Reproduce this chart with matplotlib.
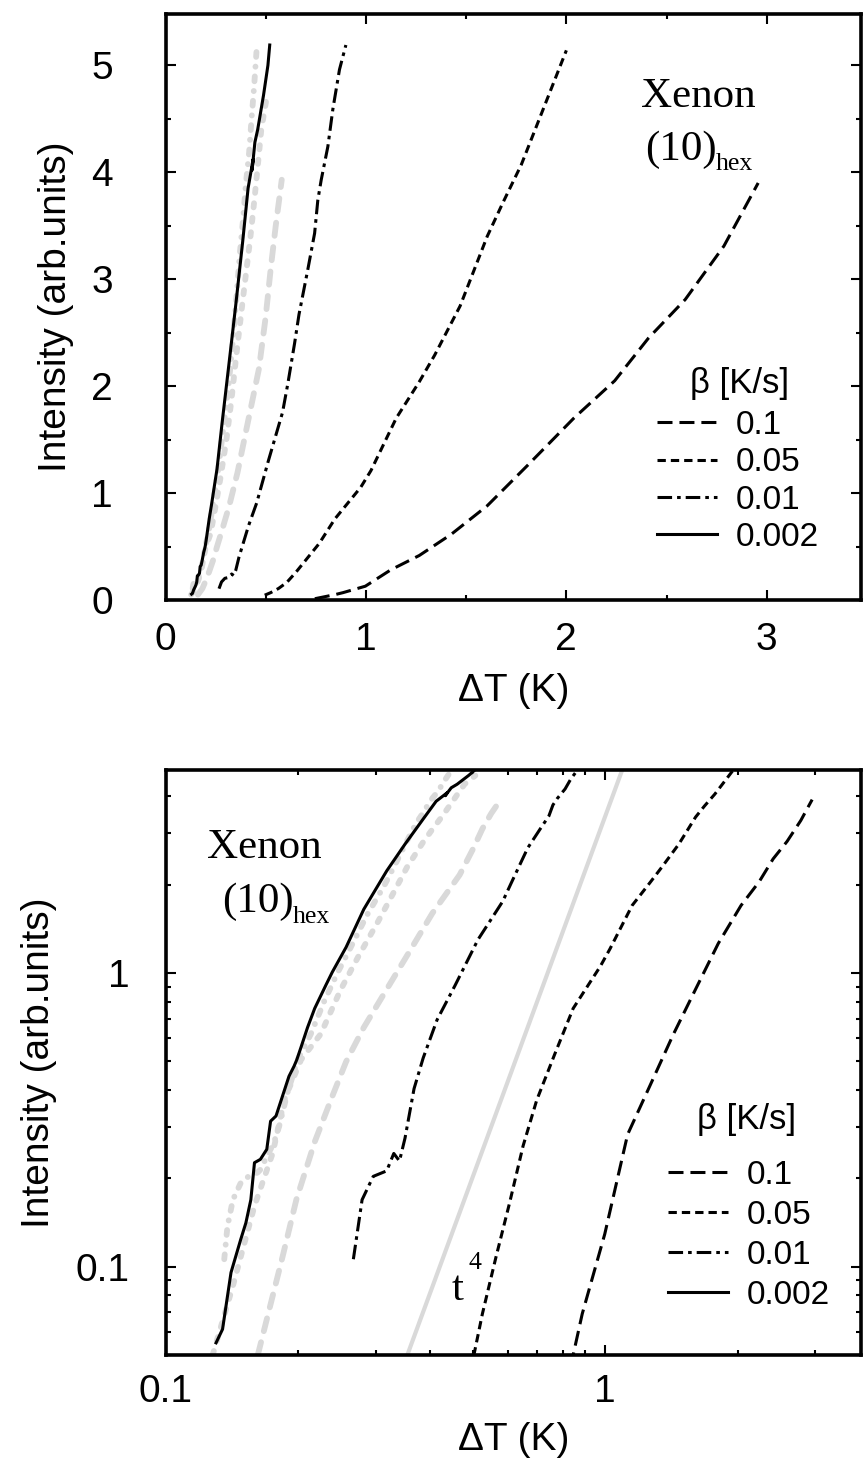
import matplotlib
matplotlib.use("Agg")
import matplotlib.pyplot as plt
from matplotlib.ticker import FixedLocator, NullFormatter, LogLocator, MultipleLocator, FixedFormatter

plt.rcParams['font.family'] = ['Liberation Sans', 'DejaVu Sans']
plt.rcParams['lines.scale_dashes'] = False

# ---- data (ΔT in K, intensity in arb. units) ----
dT_b0p1 = [0.745, 0.845, 0.886, 0.997, 1.124, 1.266, 1.426, 1.605, 1.808, 2.037, 2.241, 2.41, 2.593, 2.786, 2.957]
I_b0p1 = [0.012, 0.050, 0.069, 0.129, 0.282, 0.416, 0.615, 0.881, 1.262, 1.70, 2.05, 2.45, 2.81, 3.31, 3.90]

dT_b0p05 = [0.495, 0.525, 0.564, 0.605, 0.650, 0.698, 0.767, 0.845, 0.974, 1.025, 1.151, 1.266, 1.343, 1.47, 1.605, 1.682, 1.775, 2.0]
I_b0p05 = [0.045, 0.069, 0.108, 0.164, 0.258, 0.369, 0.529, 0.758, 1.054, 1.21, 1.70, 2.04, 2.29, 2.75, 3.40, 3.71, 4.07, 5.14]

dT_b0p01 = [0.267, 0.2795, 0.2963, 0.318, 0.330, 0.340, 0.350, 0.367, 0.385, 0.414, 0.455, 0.513, 0.584, 0.611, 0.644, 0.666, 0.71, 0.744, 0.76, 0.777, 0.81, 0.835, 0.868, 0.90]
I_b0p01 = [0.106, 0.169, 0.203, 0.212, 0.243, 0.229, 0.274, 0.404, 0.514, 0.693, 0.908, 1.30, 1.755, 2.03, 2.40, 2.67, 3.09, 3.43, 3.74, 3.93, 4.24, 4.59, 4.96, 5.19]

dT_b0p002 = [0.130, 0.1345, 0.1406, 0.148, 0.152, 0.156, 0.159, 0.164, 0.1696, 0.173, 0.178, 0.182, 0.1905, 0.1957, 0.1985, 0.203, 0.210, 0.218, 0.231, 0.239, 0.257, 0.282, 0.318, 0.350, 0.385, 0.412, 0.437, 0.432, 0.446, 0.46, 0.489, 0.511, 0.52]
I_b0p002 = [0.055, 0.0612, 0.0955, 0.124, 0.141, 0.169, 0.226, 0.232, 0.251, 0.313, 0.326, 0.361, 0.445, 0.482, 0.507, 0.56, 0.653, 0.758, 0.908, 1.007, 1.225, 1.65, 2.23, 2.75, 3.35, 3.85, 4.12, 4.02, 4.28, 4.40, 4.72, 5.0, 5.19]

# grey curves
dT_grey_dd = [0.1357, 0.138, 0.142, 0.148, 0.156, 0.1615, 0.164, 0.1698, 0.176, 0.181, 0.189, 0.1995, 0.2136, 0.229, 0.2455, 0.263, 0.287, 0.3135, 0.335, 0.357, 0.371, 0.387, 0.40, 0.417, 0.429, 0.442, 0.454]
I_grey_dd = [0.106, 0.137, 0.169, 0.193, 0.206, 0.209, 0.214, 0.238, 0.264, 0.301, 0.391, 0.507, 0.62, 0.80, 1.0, 1.22, 1.58, 1.98, 2.40, 2.90, 3.24, 3.56, 3.87, 4.18, 4.49, 4.80, 5.13]

dT_grey_sd = [0.1277, 0.142, 0.159, 0.175, 0.186, 0.203, 0.225, 0.25, 0.275, 0.304, 0.329, 0.354, 0.384, 0.404, 0.424, 0.445, 0.462, 0.478, 0.506]
I_grey_sd = [0.05, 0.086, 0.161, 0.244, 0.371, 0.507, 0.62, 0.88, 1.15, 1.50, 1.87, 2.30, 2.78, 3.09, 3.40, 3.77, 4.09, 4.40, 4.71]

dT_grey_ld = [0.1618, 0.1842, 0.198, 0.218, 0.239, 0.257, 0.282, 0.318, 0.359, 0.404, 0.466, 0.50, 0.525, 0.55, 0.58]
I_grey_ld = [0.05, 0.108, 0.169, 0.266, 0.38, 0.499, 0.653, 0.881, 1.19, 1.60, 2.16, 2.65, 3.10, 3.50, 3.93]

t4_dT = [0.3543, 1.097]
t4_I = [0.05, 5.0]

legend_title = "β [K/s]"
beta_labels = ["0.1", "0.05", "0.01", "0.002"]

# ---- styles ----
BLK_LW = 2.2
GREY = '#d9d9d9'
GREY_LW = 4.2
sty_0p1 = dict(color='k', lw=BLK_LW, dashes=(10.8, 5.0))
sty_0p05 = dict(color='k', lw=BLK_LW, dashes=(6.0, 3.6))
sty_0p01 = dict(color='k', lw=BLK_LW, dashes=(10.5, 3.6, 2.6, 3.6))
sty_0p002 = dict(color='k', lw=BLK_LW)
g_dd = dict(color=GREY, lw=GREY_LW, dashes=(3.5, 7.0, 0.1, 7.0), dash_capstyle='round')
g_sd = dict(color=GREY, lw=GREY_LW, dashes=(3.0, 7.5), dash_capstyle='round')
g_ld = dict(color=GREY, lw=GREY_LW, dashes=(9.5, 8.2), dash_capstyle='round')

W, H = 863, 1475
fig = plt.figure(figsize=(W / 100, H / 100), dpi=100)

def px_axes(l, r, t, b):
    return [l / W, 1 - b / H, (r - l) / W, (b - t) / H]

ax1 = fig.add_axes(px_axes(165.5, 861, 14, 600))
ax2 = fig.add_axes(px_axes(166, 861, 770, 1355))

FS = 28
LEG_FS = 24

def draw_curves(ax):
    ax.plot(dT_grey_ld, I_grey_ld, **g_ld)
    ax.plot(dT_grey_sd, I_grey_sd, **g_sd)
    ax.plot(dT_grey_dd, I_grey_dd, **g_dd)
    h1, = ax.plot(dT_b0p1, I_b0p1, **sty_0p1)
    h2, = ax.plot(dT_b0p05, I_b0p05, **sty_0p05)
    h3, = ax.plot(dT_b0p01, I_b0p01, **sty_0p01)
    h4, = ax.plot(dT_b0p002, I_b0p002, **sty_0p002)
    return [h1, h2, h3, h4]

def style_axes(ax):
    for s in ax.spines.values():
        s.set_linewidth(2.6)
    ax.tick_params(which='both', direction='in', top=True, right=True, width=1.5,
                   labelsize=FS)
    ax.tick_params(which='major', length=7)
    ax.tick_params(which='minor', length=3.5)

def add_legend(ax, handles, x_left, y_top, spacing):
    return ax.legend(handles, beta_labels, loc='upper left',
                     bbox_to_anchor=(x_left / W, 1 - y_top / H), bbox_transform=fig.transFigure,
                     frameon=False, fontsize=LEG_FS, handlelength=1.8,
                     handletextpad=0.55, labelspacing=spacing, borderpad=0, borderaxespad=0)

sans = ['Liberation Sans', 'DejaVu Sans']
serif = ['Liberation Serif', 'DejaVu Serif']

def fig_text(x, y, s, size, family=serif, ha='left', va='baseline'):
    fig.text(x / W, 1 - y / H, s, fontsize=size, family=family, va=va, ha=ha)

# ---- top panel (linear) ----
hs = draw_curves(ax1)
ax1.set_xlim(0, 3.47)
ax1.set_ylim(0, 5.48)
ax1.xaxis.set_major_locator(MultipleLocator(1))
ax1.xaxis.set_minor_locator(MultipleLocator(0.5))
ax1.yaxis.set_major_locator(MultipleLocator(1))
ax1.yaxis.set_minor_locator(MultipleLocator(0.5))
style_axes(ax1)
ax1.tick_params(axis='x', pad=16)
ax1.tick_params(axis='y', pad=38)
ax1.set_xlabel("ΔT (K)", fontsize=FS)
ax1.set_ylabel("Intensity (arb.units)", fontsize=FS)
ax1.xaxis.set_label_coords(0.5, -0.125)
ax1.yaxis.set_label_coords(-0.131, 0.5)
add_legend(ax1, hs, 657, 410, 0.19)
fig_text(740, 384, legend_title, 25, family=sans, ha='center', va='center')

# ---- bottom panel (log-log) ----
ax2.plot(t4_dT, t4_I, color=GREY, lw=3.0, solid_capstyle='butt')
hs2 = draw_curves(ax2)
ax2.set_xscale('log')
ax2.set_yscale('log')
ax2.set_xlim(0.1, 3.82)
ax2.set_ylim(0.05, 4.92)
for axis in (ax2.xaxis, ax2.yaxis):
    axis.set_major_locator(FixedLocator([0.1, 1]))
    axis.set_major_formatter(FixedFormatter(["0.1", "1"]))
    axis.set_minor_locator(LogLocator(base=10, subs=(2, 3, 4, 5, 6, 7, 8, 9)))
    axis.set_minor_formatter(NullFormatter())
style_axes(ax2)
ax2.tick_params(axis='x', pad=14)
ax2.tick_params(axis='y', pad=26)
ax2.set_xlabel("ΔT (K)", fontsize=FS)
ax2.set_ylabel("Intensity (arb.units)", fontsize=FS)
ax2.xaxis.set_label_coords(0.5, -0.115)
ax2.yaxis.set_label_coords(-0.157, 0.5)
add_legend(ax2, hs2, 668, 1160, 0.27)
fig_text(747, 1120, legend_title, 25, family=sans, ha='center', va='center')

# ---- annotations ----
fig_text(641, 107, "Xenon", 31)
fig_text(645, 160, "(10)", 31)
fig_text(716, 170, "hex", 18.5)

fig_text(207, 858, "Xenon", 31)
fig_text(222, 912, "(10)", 31)
fig_text(293, 923, "hex", 18.5)

fig_text(452, 1300, "t", 31)
fig_text(468, 1269, "4", 18.5)

fig.savefig("out.png", dpi=100, facecolor='white')
